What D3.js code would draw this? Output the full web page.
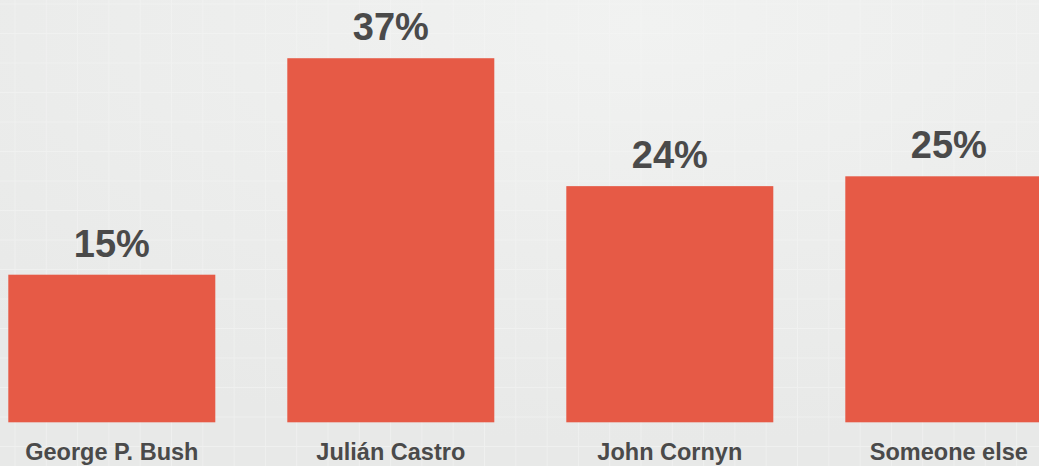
<!DOCTYPE html>
<html>
<head>
<meta charset="utf-8">
<script src="https://cdn.jsdelivr.net/npm/d3@7"></script>
<style>
html,body{margin:0;padding:0;background:#eceded;}
svg{display:block;}
</style>
</head>
<body>
<svg id="chart" width="1039" height="466"></svg>
<script>
const categories = ["George P. Bush", "Julián Castro", "John Cornyn", "Someone else"];
const values = [15, 37, 24, 25];
const valueLabels = ["15%", "37%", "24%", "25%"];

const W = 1039, H = 466;
const svg = d3.select("#chart");

// background with soft gradient
const defs = svg.append("defs");
const rg = defs.append("radialGradient").attr("id","bg")
  .attr("cx","0.62").attr("cy","0.05").attr("r","0.9");
rg.append("stop").attr("offset","0%").attr("stop-color","#f1f2f1");
rg.append("stop").attr("offset","100%").attr("stop-color","#e8e9e8");
svg.append("rect").attr("width",W).attr("height",H).attr("fill","url(#bg)");

// faint grid
const gx = d3.range(15, W, 31.3);
const gy = d3.range(4, H, 29.5);
const grid = svg.append("g").attr("stroke","#f5f6f5").attr("stroke-width",1).attr("opacity",0.55);
grid.selectAll("line.v").data(gx).join("line").attr("class","v")
  .attr("x1",d=>d).attr("x2",d=>d).attr("y1",0).attr("y2",H);
grid.selectAll("line.h").data(gy).join("line").attr("class","h")
  .attr("y1",d=>d).attr("y2",d=>d).attr("x1",0).attr("x2",W);

const step = 279, bw = 207, x0 = 8.3;
const pin = (step - bw) / step;
const x = d3.scaleBand().domain(categories)
  .range([x0 - (step - bw) / 2, x0 - (step - bw) / 2 + 4 * step])
  .paddingInner(pin).paddingOuter(pin / 2);

const y = d3.scaleLinear().domain([0, 40]).range([422.3, 422.3 - 40 * 9.84]);

svg.append("g").selectAll("rect").data(values).join("rect")
  .attr("x",(d,i)=>x(categories[i]))
  .attr("y",d=>y(d))
  .attr("width",x.bandwidth())
  .attr("height",d=>y(0)-y(d))
  .attr("fill","#e65a46");

const font = "'Liberation Sans', Arial, sans-serif";

svg.append("g").selectAll("text").data(values).join("text")
  .attr("x",(d,i)=>x(categories[i]) + x.bandwidth()/2)
  .attr("y",d=>y(d) - 18)
  .attr("text-anchor","middle")
  .attr("font-family",font)
  .attr("font-weight","bold")
  .attr("font-size",38)
  .attr("fill","#4a4a4a")
  .text((d,i)=>valueLabels[i]);

const xAxis = d3.axisBottom(x).tickSize(0).tickPadding(0);
const ax = svg.append("g").attr("transform","translate(0,442)").call(xAxis);
ax.select(".domain").remove();
ax.selectAll("text")
  .attr("dy","0.71em")
  .attr("y",1)
  .attr("font-family",font)
  .attr("font-weight","bold")
  .attr("font-size",23.5)
  .attr("fill","#4a4a4a");
</script>
</body>
</html>
